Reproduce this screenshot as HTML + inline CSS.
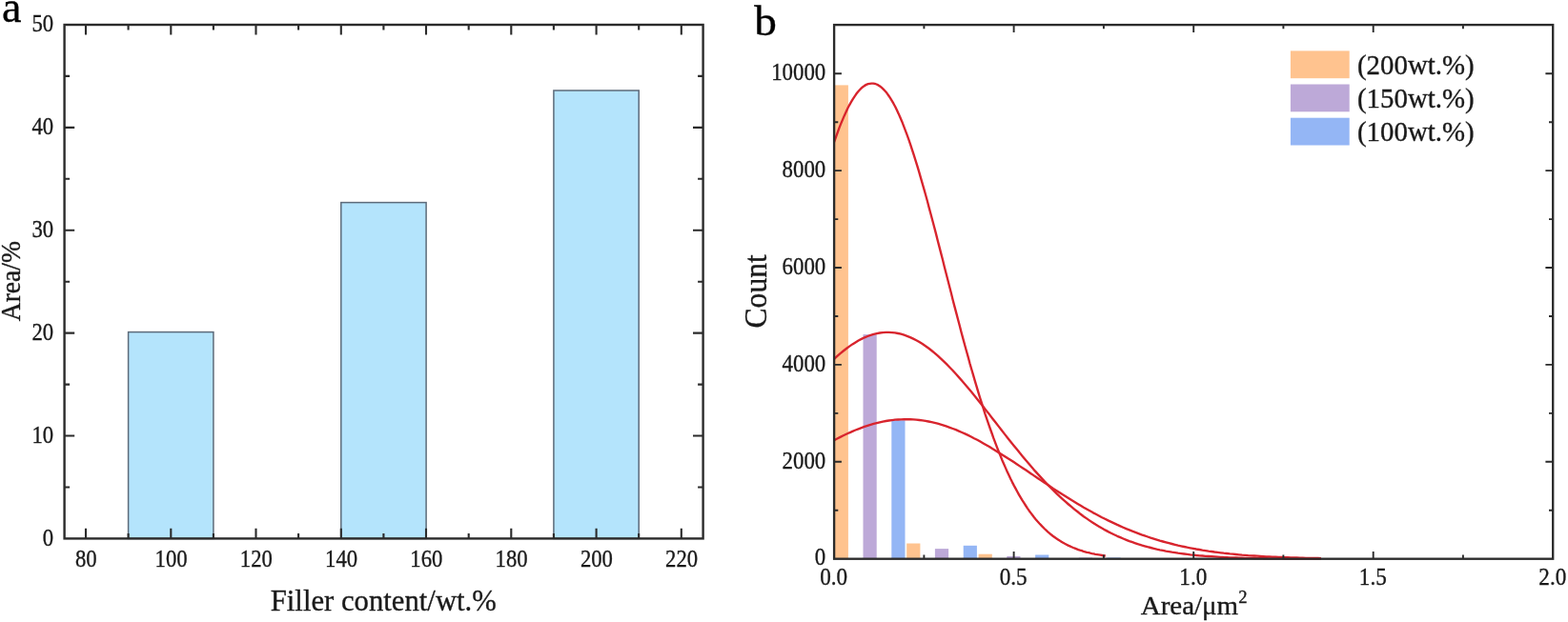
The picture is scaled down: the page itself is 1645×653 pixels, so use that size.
<!DOCTYPE html>
<html lang="en">
<head>
<meta charset="utf-8">
<title>Filler content area and particle area distribution</title>
<style>
html,body{margin:0;padding:0;background:#fff;}
body{width:1645px;height:653px;overflow:hidden;}
svg{display:block;filter:blur(0.5px);}
text{font-family:"Liberation Serif",serif;fill:#1a1a1a;stroke:#1a1a1a;stroke-width:0.35px;}
.tk{font-size:24px;}
.ax{stroke:#2b2b2b;stroke-width:2.4;fill:none;stroke-linecap:butt;}
.axb{stroke:#2b2b2b;stroke-width:2.35;fill:none;stroke-linecap:butt;}
.cv{stroke:#d8242d;stroke-width:2.35;fill:none;stroke-linejoin:round;}
</style>
</head>
<body>
<svg width="1645" height="653" viewBox="0 0 1645 653">
<rect x="0" y="0" width="1645" height="653" fill="#ffffff"/>

<g id="chart-a">
<rect x="134.6" y="348.6" width="89.3" height="216.8" fill="#b4e4fc" stroke="#5d6b7a" stroke-width="1.5"/>
<rect x="357.8" y="212.6" width="89.3" height="352.8" fill="#b4e4fc" stroke="#5d6b7a" stroke-width="1.5"/>
<rect x="580.9" y="95.0" width="89.3" height="470.4" fill="#b4e4fc" stroke="#5d6b7a" stroke-width="1.5"/>
<rect class="ax" x="67.6" y="26.0" width="670.0" height="539.4"/>
<path class="ax" style="stroke-width:2.1" d="M90.0 565.4v-10.6M90.0 26.0v10.6M134.6 565.4v-5.5M134.6 26.0v5.5M179.3 565.4v-10.6M179.3 26.0v10.6M223.9 565.4v-5.5M223.9 26.0v5.5M268.5 565.4v-10.6M268.5 26.0v10.6M313.1 565.4v-5.5M313.1 26.0v5.5M357.8 565.4v-10.6M357.8 26.0v10.6M402.4 565.4v-5.5M402.4 26.0v5.5M447.0 565.4v-10.6M447.0 26.0v10.6M491.7 565.4v-5.5M491.7 26.0v5.5M536.3 565.4v-10.6M536.3 26.0v10.6M580.9 565.4v-5.5M580.9 26.0v5.5M625.6 565.4v-10.6M625.6 26.0v10.6M670.2 565.4v-5.5M670.2 26.0v5.5M714.8 565.4v-10.6M714.8 26.0v10.6M67.6 511.5h5.5M737.6 511.5h-5.5M67.6 457.5h10.6M737.6 457.5h-10.6M67.6 403.6h5.5M737.6 403.6h-5.5M67.6 349.6h10.6M737.6 349.6h-10.6M67.6 295.7h5.5M737.6 295.7h-5.5M67.6 241.8h10.6M737.6 241.8h-10.6M67.6 187.8h5.5M737.6 187.8h-5.5M67.6 133.9h10.6M737.6 133.9h-10.6M67.6 79.9h5.5M737.6 79.9h-5.5"/>
<text transform="translate(90.3 595.2) scale(0.88 1)" font-size="25.8" text-anchor="middle">80</text>
<text transform="translate(179.6 595.2) scale(0.88 1)" font-size="25.8" text-anchor="middle">100</text>
<text transform="translate(268.8 595.2) scale(0.88 1)" font-size="25.8" text-anchor="middle">120</text>
<text transform="translate(358.1 595.2) scale(0.88 1)" font-size="25.8" text-anchor="middle">140</text>
<text transform="translate(447.3 595.2) scale(0.88 1)" font-size="25.8" text-anchor="middle">160</text>
<text transform="translate(536.6 595.2) scale(0.88 1)" font-size="25.8" text-anchor="middle">180</text>
<text transform="translate(625.9 595.2) scale(0.88 1)" font-size="25.8" text-anchor="middle">200</text>
<text transform="translate(715.1 595.2) scale(0.88 1)" font-size="25.8" text-anchor="middle">220</text>
<text transform="translate(56.2 572.8) scale(0.88 1)" font-size="25.8" text-anchor="end">0</text>
<text transform="translate(56.2 464.9) scale(0.88 1)" font-size="25.8" text-anchor="end">10</text>
<text transform="translate(56.2 357.0) scale(0.88 1)" font-size="25.8" text-anchor="end">20</text>
<text transform="translate(56.2 249.2) scale(0.88 1)" font-size="25.8" text-anchor="end">30</text>
<text transform="translate(56.2 141.3) scale(0.88 1)" font-size="25.8" text-anchor="end">40</text>
<text transform="translate(56.2 33.4) scale(0.88 1)" font-size="25.8" text-anchor="end">50</text>
<text transform="translate(402.3 641.1) scale(0.972 1)" font-size="31.6" text-anchor="middle">Filler content/wt.%</text>
<text transform="translate(21.4 295.2) rotate(-90) scale(0.94 1)" font-size="29.3" text-anchor="middle">Area/%</text>
<text transform="translate(2.0 22.7) scale(0.97 1)" font-size="47.5" text-anchor="start" style="fill:#000;stroke:#000">a</text>
</g>
<g id="chart-b">
<rect x="875.7" y="89.4" width="14.2" height="497.3" fill="#ffc38f"/>
<rect x="951.2" y="570.5" width="14.2" height="16.2" fill="#ffc38f"/>
<rect x="1026.6" y="581.7" width="14.2" height="5.0" fill="#ffc38f"/>
<rect x="1102.0" y="586.0" width="14.2" height="0.7" fill="#ffc38f"/>
<rect x="905.5" y="351.1" width="14.2" height="235.6" fill="#bda9d8"/>
<rect x="980.9" y="576.1" width="14.2" height="10.6" fill="#bda9d8"/>
<rect x="1056.3" y="583.9" width="14.2" height="2.8" fill="#bda9d8"/>
<rect x="1131.8" y="585.5" width="14.2" height="1.2" fill="#bda9d8"/>
<rect x="935.3" y="441.3" width="14.2" height="145.4" fill="#94b6f5"/>
<rect x="1010.7" y="572.8" width="14.2" height="13.9" fill="#94b6f5"/>
<rect x="1086.1" y="582.5" width="14.2" height="4.2" fill="#94b6f5"/>
<rect x="1161.5" y="585.4" width="14.2" height="1.3" fill="#94b6f5"/>
<path class="cv" d="M875.1 149.2L876.9 144.1L878.7 139.2L880.4 134.4L882.2 129.9L884.0 125.6L885.8 121.4L887.6 117.5L889.3 113.8L891.1 110.3L892.9 107.1L894.7 104.1L896.5 101.3L898.2 98.8L900.0 96.5L901.8 94.5L903.6 92.7L905.3 91.2L907.1 89.9L908.9 88.9L910.7 88.2L912.5 87.8L914.2 87.6L916.0 87.6L917.8 87.9L919.6 88.5L921.4 89.4L923.1 90.5L924.9 91.9L926.7 93.6L928.5 95.5L930.3 97.6L932.0 100.0L933.8 102.7L935.6 105.6L937.4 108.7L939.2 112.0L940.9 115.6L942.7 119.4L944.5 123.5L946.3 127.7L948.0 132.1L949.8 136.8L951.6 141.6L953.4 146.6L955.2 151.8L956.9 157.1L958.7 162.6L960.5 168.3L962.3 174.1L964.1 180.1L965.8 186.1L967.6 192.3L969.4 198.6L971.2 205.0L973.0 211.5L974.7 218.1L976.5 224.8L978.3 231.5L980.1 238.3L981.9 245.1L983.6 252.0L985.4 258.9L987.2 265.9L989.0 272.8L990.7 279.8L992.5 286.8L994.3 293.8L996.1 300.8L997.9 307.7L999.6 314.7L1001.4 321.6L1003.2 328.4L1005.0 335.2L1006.8 342.0L1008.5 348.7L1010.3 355.4L1012.1 362.0L1013.9 368.5L1015.7 374.9L1017.4 381.3L1019.2 387.5L1021.0 393.7L1022.8 399.8L1024.6 405.8L1026.3 411.7L1028.1 417.5L1029.9 423.2L1031.7 428.8L1033.4 434.3L1035.2 439.6L1037.0 444.9L1038.8 450.0L1040.6 455.0L1042.3 459.9L1044.1 464.7L1045.9 469.4L1047.7 473.9L1049.5 478.3L1051.2 482.7L1053.0 486.8L1054.8 490.9L1056.6 494.9L1058.4 498.7L1060.1 502.4L1061.9 506.1L1063.7 509.6L1065.5 512.9L1067.3 516.2L1069.0 519.4L1070.8 522.4L1072.6 525.4L1074.4 528.2L1076.2 531.0L1077.9 533.6L1079.7 536.2L1081.5 538.6L1083.3 541.0L1085.0 543.2L1086.8 545.4L1088.6 547.5L1090.4 549.5L1092.2 551.4L1093.9 553.2L1095.7 555.0L1097.5 556.7L1099.3 558.3L1101.1 559.8L1102.8 561.3L1104.6 562.7L1106.4 564.0L1108.2 565.3L1110.0 566.5L1111.7 567.6L1113.5 568.7L1115.3 569.8L1117.1 570.8L1118.9 571.7L1120.6 572.6L1122.4 573.4L1124.2 574.2L1126.0 575.0L1127.7 575.7L1129.5 576.4L1131.3 577.1L1133.1 577.7L1134.9 578.2L1136.6 578.8L1138.4 579.3L1140.2 579.8L1142.0 580.2L1143.8 580.7L1145.5 581.1L1147.3 581.4L1149.1 581.8L1150.9 582.1L1152.7 582.4L1154.4 582.7L1156.2 583.0L1158.0 583.3L1159.8 583.5"/>
<path class="cv" d="M875.1 376.8L878.3 373.9L881.5 371.1L884.7 368.5L887.9 366.0L891.1 363.6L894.3 361.4L897.5 359.4L900.6 357.5L903.8 355.9L907.0 354.3L910.2 353.0L913.4 351.9L916.6 350.9L919.8 350.1L923.0 349.5L926.2 349.1L929.4 348.9L932.6 348.9L935.8 349.1L939.0 349.4L942.2 350.0L945.3 350.7L948.5 351.7L951.7 352.8L954.9 354.1L958.1 355.6L961.3 357.2L964.5 359.0L967.7 361.0L970.9 363.2L974.1 365.5L977.3 368.0L980.5 370.6L983.7 373.4L986.9 376.3L990.1 379.3L993.2 382.4L996.4 385.7L999.6 389.0L1002.8 392.5L1006.0 396.1L1009.2 399.7L1012.4 403.4L1015.6 407.2L1018.8 411.1L1022.0 415.0L1025.2 419.0L1028.4 423.0L1031.6 427.0L1034.8 431.1L1038.0 435.1L1041.1 439.2L1044.3 443.3L1047.5 447.4L1050.7 451.5L1053.9 455.6L1057.1 459.7L1060.3 463.7L1063.5 467.7L1066.7 471.6L1069.9 475.6L1073.1 479.4L1076.3 483.3L1079.5 487.0L1082.7 490.7L1085.8 494.4L1089.0 497.9L1092.2 501.4L1095.4 504.9L1098.6 508.2L1101.8 511.5L1105.0 514.7L1108.2 517.8L1111.4 520.9L1114.6 523.8L1117.8 526.7L1121.0 529.5L1124.2 532.2L1127.4 534.8L1130.6 537.3L1133.7 539.8L1136.9 542.2L1140.1 544.4L1143.3 546.6L1146.5 548.7L1149.7 550.8L1152.9 552.7L1156.1 554.6L1159.3 556.4L1162.5 558.1L1165.7 559.7L1168.9 561.3L1172.1 562.8L1175.3 564.2L1178.4 565.5L1181.6 566.8L1184.8 568.1L1188.0 569.2L1191.2 570.3L1194.4 571.4L1197.6 572.4L1200.8 573.3L1204.0 574.2L1207.2 575.0L1210.4 575.8L1213.6 576.6L1216.8 577.3L1220.0 577.9L1223.2 578.6L1226.3 579.1L1229.5 579.7L1232.7 580.2L1235.9 580.7L1239.1 581.1L1242.3 581.5L1245.5 581.9L1248.7 582.3L1251.9 582.6L1255.1 583.0L1258.3 583.3L1261.5 583.5L1264.7 583.8L1267.9 584.0L1271.0 584.2L1274.2 584.4L1277.4 584.6L1280.6 584.8L1283.8 585.0L1287.0 585.1L1290.2 585.3L1293.4 585.4L1296.6 585.5L1299.8 585.6L1303.0 585.7L1306.2 585.8L1309.4 585.9L1312.6 585.9L1315.8 586.0L1318.9 586.1L1322.1 586.1L1325.3 586.2L1328.5 586.2L1331.7 586.3L1334.9 586.3L1338.1 586.4L1341.3 586.4L1344.5 586.4L1347.7 586.5L1350.9 586.5L1354.1 586.5L1357.3 586.5L1360.5 586.5L1363.7 586.6L1366.8 586.6L1370.0 586.6L1373.2 586.6L1376.4 586.6L1379.6 586.6L1382.8 586.6L1386.0 586.6"/>
<path class="cv" d="M875.1 462.2L878.3 460.5L881.5 458.9L884.7 457.3L887.9 455.8L891.1 454.3L894.3 452.9L897.5 451.5L900.6 450.3L903.8 449.1L907.0 447.9L910.2 446.8L913.4 445.8L916.6 444.9L919.8 444.1L923.0 443.3L926.2 442.6L929.4 442.0L932.6 441.5L935.8 441.1L939.0 440.7L942.2 440.5L945.3 440.3L948.5 440.2L951.7 440.2L954.9 440.2L958.1 440.4L961.3 440.7L964.5 441.0L967.7 441.4L970.9 441.9L974.1 442.5L977.3 443.2L980.5 443.9L983.7 444.7L986.9 445.6L990.1 446.6L993.2 447.7L996.4 448.8L999.6 450.0L1002.8 451.2L1006.0 452.6L1009.2 454.0L1012.4 455.4L1015.6 456.9L1018.8 458.5L1022.0 460.2L1025.2 461.8L1028.4 463.6L1031.6 465.4L1034.8 467.2L1038.0 469.0L1041.1 471.0L1044.3 472.9L1047.5 474.9L1050.7 476.9L1053.9 478.9L1057.1 481.0L1060.3 483.0L1063.5 485.1L1066.7 487.2L1069.9 489.4L1073.1 491.5L1076.3 493.6L1079.5 495.8L1082.7 497.9L1085.8 500.1L1089.0 502.2L1092.2 504.4L1095.4 506.5L1098.6 508.6L1101.8 510.8L1105.0 512.9L1108.2 514.9L1111.4 517.0L1114.6 519.1L1117.8 521.1L1121.0 523.1L1124.2 525.1L1127.4 527.0L1130.6 528.9L1133.7 530.8L1136.9 532.7L1140.1 534.5L1143.3 536.3L1146.5 538.1L1149.7 539.8L1152.9 541.5L1156.1 543.2L1159.3 544.8L1162.5 546.4L1165.7 547.9L1168.9 549.4L1172.1 550.9L1175.3 552.3L1178.4 553.7L1181.6 555.1L1184.8 556.4L1188.0 557.7L1191.2 558.9L1194.4 560.1L1197.6 561.3L1200.8 562.4L1204.0 563.5L1207.2 564.6L1210.4 565.6L1213.6 566.6L1216.8 567.6L1220.0 568.5L1223.2 569.4L1226.3 570.2L1229.5 571.0L1232.7 571.8L1235.9 572.6L1239.1 573.3L1242.3 574.0L1245.5 574.7L1248.7 575.3L1251.9 575.9L1255.1 576.5L1258.3 577.0L1261.5 577.6L1264.7 578.1L1267.9 578.6L1271.0 579.0L1274.2 579.5L1277.4 579.9L1280.6 580.3L1283.8 580.7L1287.0 581.0L1290.2 581.4L1293.4 581.7L1296.6 582.0L1299.8 582.3L1303.0 582.6L1306.2 582.8L1309.4 583.1L1312.6 583.3L1315.8 583.5L1318.9 583.7L1322.1 583.9L1325.3 584.1L1328.5 584.3L1331.7 584.4L1334.9 584.6L1338.1 584.7L1341.3 584.9L1344.5 585.0L1347.7 585.1L1350.9 585.2L1354.1 585.3L1357.3 585.4L1360.5 585.5L1363.7 585.6L1366.8 585.7L1370.0 585.8L1373.2 585.8L1376.4 585.9L1379.6 586.0L1382.8 586.0L1386.0 586.1"/>
<rect class="axb" x="875.1" y="26.1" width="754.1" height="560.6"/>
<path class="axb" style="stroke-width:1.9" d="M969.4 586.7v-4.2M969.4 26.1v4.2M1063.6 586.7v-7.8M1063.6 26.1v7.8M1157.9 586.7v-4.2M1157.9 26.1v4.2M1252.2 586.7v-7.8M1252.2 26.1v7.8M1346.4 586.7v-4.2M1346.4 26.1v4.2M1440.7 586.7v-7.8M1440.7 26.1v7.8M1534.9 586.7v-4.2M1534.9 26.1v4.2M875.1 535.8h4.2M1629.2 535.8h-4.2M875.1 484.8h7.8M1629.2 484.8h-7.8M875.1 433.9h4.2M1629.2 433.9h-4.2M875.1 382.9h7.8M1629.2 382.9h-7.8M875.1 332.0h4.2M1629.2 332.0h-4.2M875.1 281.0h7.8M1629.2 281.0h-7.8M875.1 230.1h4.2M1629.2 230.1h-4.2M875.1 179.1h7.8M1629.2 179.1h-7.8M875.1 128.2h4.2M1629.2 128.2h-4.2M875.1 77.2h7.8M1629.2 77.2h-7.8"/>
<text transform="translate(874.7 614.4) scale(0.89 1)" font-size="26" text-anchor="middle">0.0</text>
<text transform="translate(1063.2 614.4) scale(0.89 1)" font-size="26" text-anchor="middle">0.5</text>
<text transform="translate(1251.8 614.4) scale(0.89 1)" font-size="26" text-anchor="middle">1.0</text>
<text transform="translate(1440.3 614.4) scale(0.89 1)" font-size="26" text-anchor="middle">1.5</text>
<text transform="translate(1628.8 614.4) scale(0.89 1)" font-size="26" text-anchor="middle">2.0</text>
<text transform="translate(866.3 593.4) scale(0.9 1)" font-size="25.4" text-anchor="end">0</text>
<text transform="translate(866.3 491.5) scale(0.9 1)" font-size="25.4" text-anchor="end">2000</text>
<text transform="translate(866.3 389.6) scale(0.9 1)" font-size="25.4" text-anchor="end">4000</text>
<text transform="translate(866.3 287.7) scale(0.9 1)" font-size="25.4" text-anchor="end">6000</text>
<text transform="translate(866.3 185.8) scale(0.9 1)" font-size="25.4" text-anchor="end">8000</text>
<text transform="translate(866.3 83.9) scale(0.9 1)" font-size="25.4" text-anchor="end">10000</text>
<text transform="translate(1252.6 644.7) scale(1.035 1)" font-size="28" text-anchor="middle">Area/μm<tspan font-size="18" dy="-11.3">2</tspan></text>
<text transform="translate(804.3 305.8) rotate(-90) scale(0.945 1)" font-size="33.5" text-anchor="middle">Count</text>
<text transform="translate(791.3 36.8) scale(1.05 1)" font-size="45" text-anchor="start" style="fill:#000;stroke:#000">b</text>
<rect x="1353.9" y="53.4" width="61.8" height="28.8" fill="#ffc38f"/>
<text transform="translate(1424.0 77.8) scale(0.975 1)" font-size="29.6" text-anchor="start">(200wt.%)</text>
<rect x="1353.9" y="88.5" width="61.8" height="28.8" fill="#bda9d8"/>
<text transform="translate(1424.0 112.9) scale(0.975 1)" font-size="29.6" text-anchor="start">(150wt.%)</text>
<rect x="1353.9" y="123.7" width="61.8" height="28.8" fill="#94b6f5"/>
<text transform="translate(1424.0 148.1) scale(0.975 1)" font-size="29.6" text-anchor="start">(100wt.%)</text>
</g>
</svg>
</body>
</html>
